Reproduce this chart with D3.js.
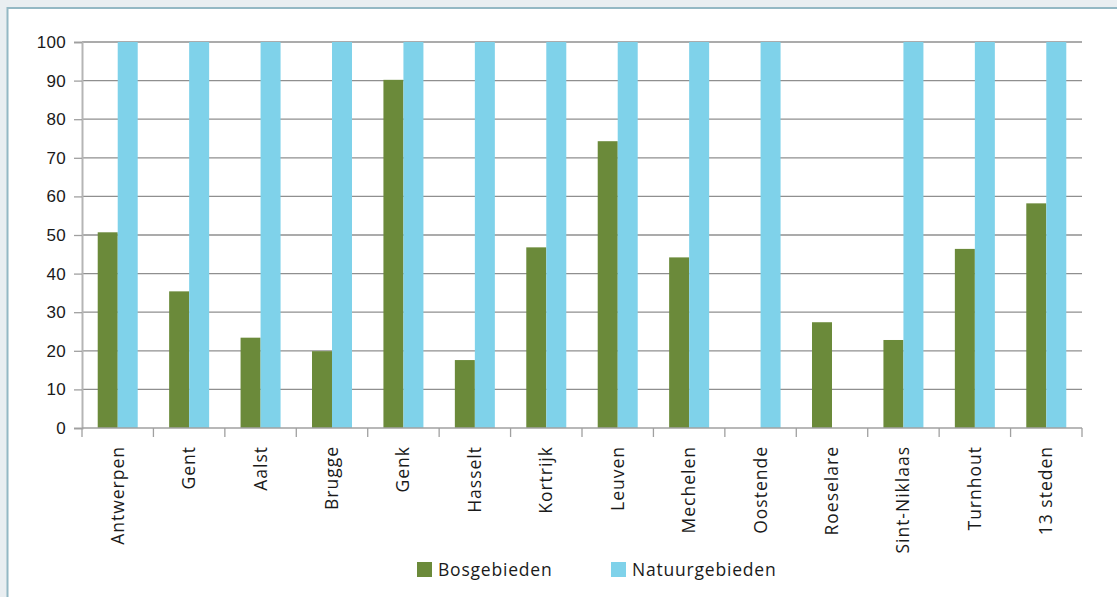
<!DOCTYPE html>
<html><head><meta charset="utf-8">
<script src="https://cdn.jsdelivr.net/npm/d3@7"></script>
<style>
html,body{margin:0;padding:0;background:#e9eef1;}
svg{display:block;font-family:"Open Sans","Noto Sans",sans-serif;}
</style></head>
<body><svg id="c" width="1117" height="597"></svg>
<script>
const categories = ["Antwerpen","Gent","Aalst","Brugge","Genk","Hasselt","Kortrijk","Leuven","Mechelen","Oostende","Roeselare","Sint-Niklaas","Turnhout","13 steden"];
const bosgebieden = [50.7,35.4,23.4,19.9,90.2,17.6,46.8,74.3,44.2,0,27.4,22.8,46.4,58.2];
const natuurgebieden = [100,100,100,100,100,100,100,100,100,100,0,100,100,100];
const seriesNames = ["Bosgebieden","Natuurgebieden"];
const colors = ["#6b8a3a","#7fd2ea"];
const yTicks = [0,10,20,30,40,50,60,70,80,90,100];

const svg = d3.select("#c");
svg.append("rect").attr("x",7.5).attr("y",8).attr("width",1120).attr("height",600)
  .attr("fill","#fff").attr("stroke","#94b8c4").attr("stroke-width",2);

const L=82,R=1082,T=42,B=428;
const x = d3.scaleBand().domain(categories).range([L,R]).paddingInner(0.44).paddingOuter(0.22);
const xs = d3.scaleBand().domain(seriesNames).range([0,x.bandwidth()]);
const y = d3.scaleLinear().domain([0,100]).range([B,T]);

// gridlines
svg.append("g").selectAll("line").data(yTicks.filter(d=>d>0)).join("line")
  .attr("x1",L).attr("x2",R).attr("y1",d=>y(d)).attr("y2",d=>y(d))
  .attr("stroke","#8f8f8f").attr("stroke-width",1.3);

// bars
const data = [bosgebieden,natuurgebieden];
data.forEach((vals,si)=>{
  svg.append("g").selectAll("rect").data(categories).join("rect")
    .attr("x",c=>x(c)+xs(seriesNames[si]))
    .attr("width",xs.bandwidth())
    .attr("y",(c,i)=>y(vals[i]))
    .attr("height",(c,i)=>B-y(vals[i]))
    .attr("fill",colors[si]);
});

// y axis
const yAxis = d3.axisLeft(y).tickValues(yTicks).tickSize(8).tickPadding(8);
const gy = svg.append("g").attr("transform",`translate(${L},0)`).call(yAxis);
gy.select(".domain").attr("stroke","#b5b5b5").attr("stroke-width",2);
gy.selectAll(".tick line").attr("stroke","#a0a0a0").attr("stroke-width",1.3);
gy.selectAll(".tick text").attr("font-size",17).attr("fill","#1a1a1a").attr("letter-spacing",0.3);

// x axis
const step = x.step();
const bounds = d3.range(categories.length+1).map(i=>L+i*step);
svg.append("line").attr("x1",L).attr("x2",R).attr("y1",B).attr("y2",B)
  .attr("stroke","#a0a0a0").attr("stroke-width",1.5);
svg.append("g").selectAll("line").data(bounds).join("line")
  .attr("x1",d=>d).attr("x2",d=>d).attr("y1",B).attr("y2",B+9)
  .attr("stroke","#a0a0a0").attr("stroke-width",1.3);
svg.append("g").selectAll("text").data(categories).join("text")
  .attr("transform",c=>`translate(${x(c)+x.bandwidth()/2+6},${B+18}) rotate(-90)`)
  .attr("text-anchor","end").attr("font-size",17.5).attr("letter-spacing",1).attr("fill","#1a1a1a")
  .text(c=>c);

// legend
const legX=[417,611];
seriesNames.forEach((s,i)=>{
  svg.append("rect").attr("x",legX[i]).attr("y",562).attr("width",15).attr("height",15).attr("fill",colors[i]);
  svg.append("text").attr("x",legX[i]+21).attr("y",576).attr("font-size",17.5).attr("letter-spacing",0.8).attr("fill","#1a1a1a").text(s);
});
</script></body></html>
